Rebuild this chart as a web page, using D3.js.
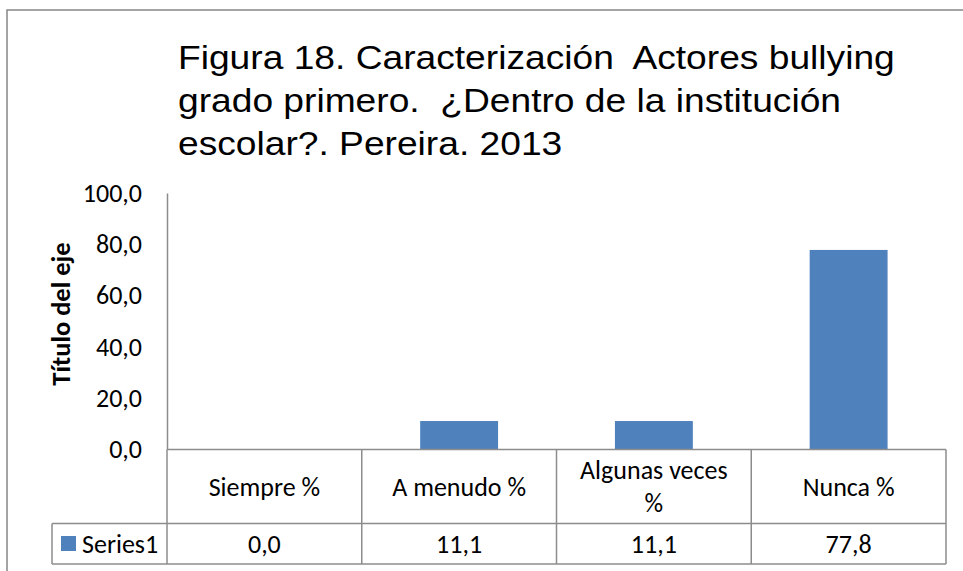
<!DOCTYPE html>
<html>
<head>
<meta charset="utf-8">
<script src="https://cdn.jsdelivr.net/npm/d3@7"></script>
<style>
  body { margin: 0; background: #fff; }
  .cal { font-family: Carlito, Calibri, Lato, "Open Sans", sans-serif; fill: #000; }
  .title { font-family: "Liberation Sans", Arial, sans-serif; font-size: 34px; fill: #000; white-space: pre; }
</style>
</head>
<body>
<div id="chart"></div>
<script>
// chart data
const categories = ["Siempre %", "A menudo %", "Algunas veces %", "Nunca %"];
const seriesName = "Series1";
const values = [0.0, 11.1, 11.1, 77.8];
const yTicks = [0, 20, 40, 60, 80, 100];
const titleLines = [
  "Figura 18. Caracterización  Actores bullying",
  "grado primero.  ¿Dentro de la institución",
  "escolar?. Pereira. 2013"
];

const W = 963, H = 571;
const plot = {left: 167, right: 946, top: 193, bottom: 449.5};
const tableRow = 523.5, tableBottom = 564, legendLeft = 52;
const gridColor = "#8c8c8c";
const barColor = "#4f81bd";
const fs = 26;
const fmt = v => v.toFixed(1).replace(".", ",");

const svg = d3.select("#chart").append("svg")
    .attr("width", W)
    .attr("height", H);

// outer chart border
svg.append("rect")
    .attr("x", 7).attr("y", 10)
    .attr("width", W + 10).attr("height", H + 10)
    .attr("fill", "none")
    .attr("stroke", "#878787")
    .attr("stroke-width", 1.5);

// title (the original is slightly stretched horizontally)
const titleG = svg.append("g");
const title = titleG.append("text")
    .attr("class", "title")
    .attr("xml:space", "preserve");
title.selectAll("tspan")
    .data(titleLines)
  .join("tspan")
    .attr("x", 0)
    .attr("y", (d, i) => 69 + i * 43)
    .text(d => d);
const firstLen = title.select("tspan").node().getComputedTextLength();
const sx = 717 / firstLen;
titleG.attr("transform", `translate(178,0) scale(${sx},1)`);

const x = d3.scaleBand()
    .domain(categories)
    .range([plot.left, plot.right])
    .padding(0);

const y = d3.scaleLinear()
    .domain([0, 100])
    .range([plot.bottom, plot.top]);

// y axis
const yAxis = d3.axisLeft(y)
    .tickValues(yTicks)
    .tickSize(0)
    .tickPadding(25)
    .tickFormat(fmt);

const yAxisG = svg.append("g")
    .attr("transform", `translate(${plot.left},0)`)
    .call(yAxis);
yAxisG.select(".domain").attr("stroke", gridColor).attr("stroke-width", 1.5);
yAxisG.selectAll(".tick text")
    .attr("class", "cal")
    .style("font-size", fs + "px")
    .style("font-family", "Carlito, Calibri, Lato, sans-serif");

// axis title
svg.append("text")
    .attr("class", "cal")
    .attr("transform", "translate(70,314) rotate(-90)")
    .attr("text-anchor", "middle")
    .style("font-size", "26.5px")
    .style("font-weight", "bold")
    .text("Título del eje");

// bars (gap width 150%)
const barW = x.bandwidth() / 2.5;
svg.selectAll(".bar")
    .data(values)
  .join("rect")
    .attr("class", "bar")
    .attr("x", (d, i) => x(categories[i]) + (x.bandwidth() - barW) / 2)
    .attr("y", d => y(d))
    .attr("width", barW)
    .attr("height", d => y(0) - y(d))
    .attr("fill", barColor);

// data table
const table = svg.append("g")
    .attr("stroke", gridColor)
    .attr("stroke-width", 1.5);

table.append("line")
    .attr("x1", plot.left).attr("x2", plot.right)
    .attr("y1", plot.bottom).attr("y2", plot.bottom);
table.append("line")
    .attr("x1", legendLeft).attr("x2", plot.right)
    .attr("y1", tableRow).attr("y2", tableRow);
table.append("line")
    .attr("x1", legendLeft).attr("x2", plot.right)
    .attr("y1", tableBottom).attr("y2", tableBottom);
table.append("line")
    .attr("x1", legendLeft).attr("x2", legendLeft)
    .attr("y1", tableRow).attr("y2", tableBottom);
table.append("line")
    .attr("x1", plot.left).attr("x2", plot.left)
    .attr("y1", plot.bottom).attr("y2", tableBottom);
table.selectAll(".vline")
    .data(categories)
  .join("line")
    .attr("class", "vline")
    .attr("x1", d => x(d) + x.bandwidth())
    .attr("x2", d => x(d) + x.bandwidth())
    .attr("y1", plot.bottom).attr("y2", tableBottom);

// category labels (wrapped like Excel)
const headerMid = (plot.bottom + tableRow) / 2;
const wrapped = {"Algunas veces %": ["Algunas veces", "%"]};
categories.forEach(c => {
  const lines = wrapped[c] || [c];
  const t = svg.append("text")
      .attr("class", "cal")
      .attr("text-anchor", "middle")
      .style("font-size", fs + "px");
  lines.forEach((l, i) => {
    t.append("tspan")
        .attr("x", x(c) + x.bandwidth() / 2)
        .attr("y", headerMid + (i - (lines.length - 1) / 2) * 33)
        .attr("dy", "0.35em")
        .text(l);
  });
});

// value row
const rowMid = (tableRow + tableBottom) / 2;
svg.selectAll(".val")
    .data(values)
  .join("text")
    .attr("class", "cal val")
    .attr("x", (d, i) => x(categories[i]) + x.bandwidth() / 2)
    .attr("y", rowMid)
    .attr("dy", "0.35em")
    .attr("text-anchor", "middle")
    .style("font-size", fs + "px")
    .text(fmt);

// legend key
svg.append("rect")
    .attr("x", 61).attr("y", 536)
    .attr("width", 15).attr("height", 15)
    .attr("fill", barColor);
svg.append("text")
    .attr("class", "cal")
    .attr("x", 82)
    .attr("y", rowMid)
    .attr("dy", "0.35em")
    .style("font-size", fs + "px")
    .text(seriesName);
</script>
</body>
</html>
